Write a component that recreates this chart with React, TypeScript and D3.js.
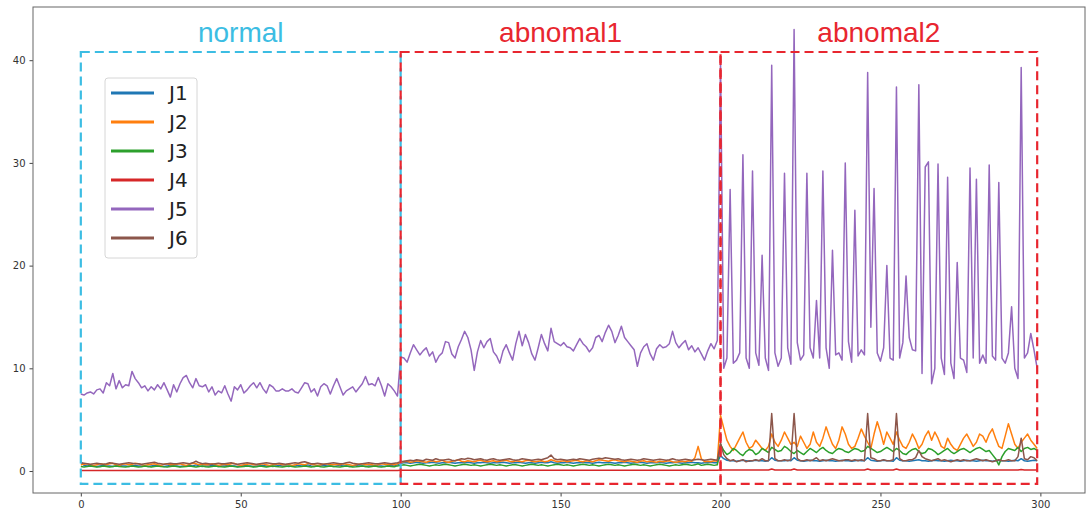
import React from "react";
import * as d3 from "d3";

const names = ["J1", "J2", "J3", "J4", "J5", "J6"];
const colors = ["#1f77b4", "#ff7f0e", "#2ca02c", "#d62728", "#9467bd", "#8c564b"];

const j1 = [
  0.9, 0.55, 0.5, 0.55, 0.5, 0.45, 0.5, 0.55, 0.5, 0.5, 0.45, 0.5, 0.55, 0.5, 0.5, 0.45, 0.5, 0.55, 0.5, 0.5,
  0.5, 0.45, 0.5, 0.55, 0.5, 0.5, 0.45, 0.5, 0.55, 0.5, 0.5, 0.45, 0.5, 0.5, 0.55, 0.5, 0.6, 0.5, 0.45, 0.5,
  0.5, 0.55, 0.5, 0.45, 0.5, 0.5, 0.55, 0.5, 0.5, 0.45, 0.5, 0.55, 0.5, 0.5, 0.45, 0.5, 0.5, 0.55, 0.5, 0.5,
  0.45, 0.5, 0.55, 0.5, 0.5, 0.45, 0.5, 0.5, 0.55, 0.5, 0.5, 0.6, 0.5, 0.45, 0.5, 0.5, 0.55, 0.5, 0.5, 0.45,
  0.5, 0.55, 0.5, 0.5, 0.45, 0.5, 0.55, 0.5, 0.5, 0.45, 0.5, 0.5, 0.55, 0.5, 0.5, 0.45, 0.5, 0.55, 0.5, 0.6,
  0.75, 0.8, 0.8, 0.75, 0.8, 0.85, 0.8, 0.75, 0.8, 0.8, 0.85, 0.8, 0.75, 0.8, 0.8, 0.85, 0.8, 0.75, 0.8, 0.8,
  0.8, 0.85, 0.8, 0.75, 0.8, 0.8, 0.85, 0.8, 0.75, 0.8, 0.8, 0.8, 0.85, 0.8, 0.75, 0.8, 0.8, 0.85, 0.8, 0.75,
  0.8, 0.8, 0.75, 0.8, 0.85, 0.8, 0.8, 0.9, 0.8, 0.75, 0.8, 0.8, 0.85, 0.8, 0.75, 0.8, 0.8, 0.85, 0.8, 0.8,
  0.75, 0.8, 0.85, 0.8, 0.8, 0.85, 0.8, 0.75, 0.8, 0.8, 0.85, 0.8, 0.75, 0.8, 0.8, 0.85, 0.8, 0.75, 0.8, 0.8,
  0.8, 0.85, 0.8, 0.75, 0.8, 0.8, 0.85, 0.8, 0.75, 0.8, 0.8, 0.85, 0.8, 0.8, 0.75, 0.8, 0.8, 0.85, 0.8, 0.8,
  1.5, 1.2, 1.05, 1.0, 1.0, 0.95, 1.0, 1.05, 1.0, 0.95, 1.0, 1.05, 1.0, 1.0, 0.95, 1.0, 1.3, 1.05, 1.0, 1.0,
  1.0, 1.05, 1.0, 1.3, 1.05, 1.0, 0.95, 1.0, 1.05, 1.0, 1.0, 0.95, 1.0, 1.05, 1.0, 1.0, 0.95, 1.0, 1.05, 1.0,
  1.0, 0.95, 1.0, 1.05, 1.0, 1.0, 1.3, 1.05, 1.0, 0.95, 1.0, 1.05, 1.0, 1.0, 0.95, 1.3, 1.05, 1.0, 1.0, 0.95,
  1.0, 1.05, 1.1, 1.0, 1.0, 0.95, 1.0, 1.05, 1.0, 1.0, 0.95, 1.0, 1.05, 1.0, 1.0, 0.95, 1.0, 1.05, 1.0, 1.0,
  0.95, 1.0, 1.05, 1.0, 1.0, 0.95, 1.0, 1.05, 1.0, 1.0, 0.95, 1.0, 1.05, 1.0, 1.2, 1.0, 0.95, 1.0, 1.05, 1.0,
];

const j2 = [
  0.6, 0.65, 0.7, 0.6, 0.55, 0.6, 0.7, 0.65, 0.6, 0.7, 0.75, 0.6, 0.55, 0.65, 0.7, 0.6, 0.65, 0.75, 0.7, 0.6,
  0.55, 0.6, 0.65, 0.7, 0.6, 0.55, 0.65, 0.7, 0.6, 0.6, 0.65, 0.7, 0.6, 0.55, 0.65, 0.75, 0.7, 0.6, 0.65, 0.6,
  0.6, 0.7, 0.65, 0.55, 0.6, 0.65, 0.6, 0.7, 0.75, 0.6, 0.55, 0.6, 0.65, 0.7, 0.6, 0.6, 0.65, 0.7, 0.6, 0.55,
  0.6, 0.65, 0.7, 0.6, 0.6, 0.65, 0.55, 0.6, 0.7, 0.65, 0.6, 0.75, 0.65, 0.6, 0.55, 0.6, 0.65, 0.7, 0.6, 0.6,
  0.65, 0.6, 0.7, 0.65, 0.6, 0.55, 0.6, 0.65, 0.7, 0.6, 0.65, 0.6, 0.55, 0.6, 0.7, 0.65, 0.6, 0.65, 0.6, 0.7,
  0.85, 0.9, 0.95, 0.85, 0.9, 1.0, 0.95, 0.9, 0.85, 0.95, 1.0, 0.9, 0.95, 1.05, 0.9, 0.85, 0.95, 1.0, 1.1, 0.95,
  0.9, 1.0, 0.95, 0.9, 1.0, 1.05, 0.95, 0.9, 0.95, 1.0, 0.9, 0.95, 1.0, 1.05, 0.95, 0.9, 1.0, 0.95, 0.9, 1.0,
  1.05, 0.95, 0.9, 0.95, 1.0, 0.9, 0.95, 1.1, 1.0, 0.9, 0.95, 1.0, 0.9, 0.95, 1.0, 1.05, 0.95, 0.9, 1.0, 0.95,
  0.9, 1.0, 1.1, 1.05, 1.0, 0.95, 1.05, 1.1, 1.0, 0.95, 0.9, 1.0, 0.95, 0.9, 0.85, 0.95, 1.0, 0.9, 0.95, 0.9,
  0.85, 0.95, 0.9, 0.95, 1.0, 0.9, 0.85, 0.9, 0.95, 0.9, 1.0, 0.95, 1.3, 2.4, 1.2, 0.9, 0.95, 0.9, 1.0, 0.95,
  5.4, 4.2, 3.0, 2.4, 2.0, 2.6, 3.2, 3.8, 2.8, 2.2, 2.4, 3.0, 2.6, 2.2, 2.0, 2.4, 3.6, 2.8, 2.4, 3.0,
  3.8, 3.2, 2.6, 2.8, 2.4, 3.4, 2.8, 2.2, 2.6, 3.8, 2.8, 2.4, 3.2, 4.3, 3.4, 2.6, 2.2, 3.0, 4.3, 3.6,
  2.6, 2.2, 2.4, 3.2, 4.1, 3.4, 2.8, 2.2, 3.6, 4.8, 3.8, 2.6, 3.8, 3.2, 2.6, 3.8, 3.0, 2.4, 2.2, 2.8,
  3.6, 3.0, 2.2, 2.6, 3.4, 3.9, 3.0, 3.8, 3.2, 2.4, 2.2, 3.2, 2.6, 2.2, 2.0, 2.6, 3.2, 3.6, 3.0, 2.4,
  2.8, 3.6, 3.4, 2.8, 3.6, 4.1, 3.2, 2.4, 2.2, 3.4, 4.6, 3.6, 2.6, 2.2, 2.8, 3.2, 3.6, 3.0, 2.6, 2.2,
];

const j3 = [
  0.45, 0.4, 0.45, 0.5, 0.45, 0.4, 0.42, 0.48, 0.45, 0.4, 0.45, 0.5, 0.45, 0.42, 0.4, 0.45, 0.5, 0.45, 0.4, 0.42,
  0.48, 0.45, 0.4, 0.45, 0.5, 0.45, 0.42, 0.4, 0.45, 0.48, 0.45, 0.4, 0.42, 0.45, 0.5, 0.45, 0.4, 0.45, 0.48, 0.42,
  0.4, 0.45, 0.5, 0.45, 0.42, 0.4, 0.45, 0.48, 0.45, 0.4, 0.42, 0.45, 0.5, 0.45, 0.4, 0.42, 0.48, 0.45, 0.4, 0.45,
  0.5, 0.45, 0.42, 0.4, 0.45, 0.48, 0.45, 0.4, 0.42, 0.45, 0.5, 0.45, 0.4, 0.45, 0.48, 0.42, 0.4, 0.45, 0.5, 0.45,
  0.42, 0.4, 0.45, 0.48, 0.45, 0.4, 0.42, 0.45, 0.5, 0.45, 0.4, 0.45, 0.48, 0.42, 0.4, 0.45, 0.5, 0.45, 0.42, 0.5,
  0.55, 0.6, 0.55, 0.5, 0.55, 0.6, 0.65, 0.6, 0.55, 0.5, 0.55, 0.6, 0.55, 0.6, 0.65, 0.6, 0.55, 0.5, 0.55, 0.6,
  0.65, 0.6, 0.55, 0.6, 0.55, 0.5, 0.55, 0.6, 0.65, 0.6, 0.55, 0.6, 0.55, 0.5, 0.55, 0.6, 0.6, 0.55, 0.5, 0.55,
  0.6, 0.65, 0.6, 0.55, 0.6, 0.55, 0.5, 0.55, 0.6, 0.65, 0.6, 0.55, 0.6, 0.55, 0.5, 0.55, 0.6, 0.65, 0.6, 0.55,
  0.6, 0.55, 0.5, 0.55, 0.6, 0.65, 0.6, 0.55, 0.6, 0.55, 0.5, 0.55, 0.6, 0.65, 0.6, 0.55, 0.6, 0.55, 0.5, 0.55,
  0.6, 0.65, 0.6, 0.55, 0.5, 0.55, 0.6, 0.55, 0.6, 0.65, 0.6, 0.55, 0.6, 0.7, 0.55, 0.6, 0.65, 0.6, 0.55, 0.6,
  2.6, 2.0, 1.6, 1.8, 2.2, 2.0, 1.7, 1.5, 1.9, 2.1, 2.0, 1.6, 1.8, 2.2, 2.0, 1.8, 2.3, 2.1, 1.9, 2.0,
  2.4, 2.2, 1.9, 1.7, 2.0, 1.8, 1.6, 1.9, 2.2, 2.0, 1.8, 2.1, 2.3, 2.0, 1.8, 1.7, 2.0, 2.2, 2.1, 1.9,
  1.8, 2.0, 2.2, 2.1, 1.9, 2.0, 2.4, 2.2, 2.0, 1.8, 1.9, 2.1, 2.3, 2.1, 1.9, 2.2, 2.0, 1.7, 1.6, 1.9,
  2.1, 2.2, 1.9, 1.7, 1.8, 2.2, 2.1, 1.9, 1.6, 1.8, 2.0, 2.2, 1.9, 1.7, 1.9, 2.1, 2.2, 2.0, 1.8, 2.0,
  2.2, 2.3, 2.1, 1.9, 2.0, 1.6, 1.2, 0.6, 1.4, 1.9, 2.2, 2.1, 2.0, 2.3, 1.9, 2.2, 2.3, 2.1, 2.2, 2.0,
];

const j4 = [
  0.05, 0.05, 0.05, 0.05, 0.05, 0.05, 0.05, 0.05, 0.05, 0.05, 0.05, 0.05, 0.05, 0.05, 0.05, 0.05, 0.05, 0.05, 0.05, 0.05,
  0.05, 0.05, 0.05, 0.05, 0.05, 0.05, 0.05, 0.05, 0.05, 0.05, 0.05, 0.05, 0.05, 0.05, 0.05, 0.05, 0.05, 0.05, 0.05, 0.05,
  0.05, 0.05, 0.05, 0.05, 0.05, 0.05, 0.05, 0.05, 0.05, 0.05, 0.05, 0.05, 0.05, 0.05, 0.05, 0.05, 0.05, 0.05, 0.05, 0.05,
  0.05, 0.05, 0.05, 0.05, 0.05, 0.05, 0.05, 0.05, 0.05, 0.05, 0.05, 0.05, 0.05, 0.05, 0.05, 0.05, 0.05, 0.05, 0.05, 0.05,
  0.05, 0.05, 0.05, 0.05, 0.05, 0.05, 0.05, 0.05, 0.05, 0.05, 0.05, 0.05, 0.05, 0.05, 0.05, 0.05, 0.05, 0.05, 0.05, 0.05,
  0.07, 0.07, 0.07, 0.07, 0.07, 0.07, 0.07, 0.07, 0.07, 0.07, 0.07, 0.07, 0.07, 0.07, 0.07, 0.07, 0.07, 0.07, 0.07, 0.07,
  0.07, 0.07, 0.07, 0.07, 0.07, 0.07, 0.07, 0.07, 0.07, 0.07, 0.07, 0.07, 0.07, 0.07, 0.07, 0.07, 0.07, 0.07, 0.07, 0.07,
  0.07, 0.07, 0.07, 0.07, 0.07, 0.07, 0.07, 0.07, 0.07, 0.07, 0.07, 0.07, 0.07, 0.07, 0.07, 0.07, 0.07, 0.07, 0.07, 0.07,
  0.07, 0.07, 0.07, 0.07, 0.07, 0.07, 0.07, 0.07, 0.07, 0.07, 0.07, 0.07, 0.07, 0.07, 0.07, 0.07, 0.07, 0.07, 0.07, 0.07,
  0.07, 0.07, 0.07, 0.07, 0.07, 0.07, 0.07, 0.07, 0.07, 0.07, 0.07, 0.07, 0.07, 0.07, 0.07, 0.07, 0.07, 0.07, 0.07, 0.07,
  0.1, 0.1, 0.1, 0.1, 0.1, 0.1, 0.1, 0.1, 0.1, 0.1, 0.1, 0.1, 0.1, 0.1, 0.1, 0.1, 0.2, 0.1, 0.1, 0.1,
  0.1, 0.1, 0.1, 0.2, 0.1, 0.1, 0.1, 0.1, 0.1, 0.1, 0.1, 0.1, 0.1, 0.1, 0.1, 0.1, 0.1, 0.1, 0.1, 0.1,
  0.1, 0.1, 0.1, 0.1, 0.1, 0.1, 0.2, 0.1, 0.1, 0.1, 0.1, 0.1, 0.1, 0.1, 0.1, 0.2, 0.1, 0.1, 0.1, 0.1,
  0.1, 0.1, 0.1, 0.1, 0.1, 0.1, 0.1, 0.1, 0.1, 0.1, 0.1, 0.1, 0.1, 0.1, 0.1, 0.1, 0.1, 0.1, 0.1, 0.1,
  0.1, 0.1, 0.1, 0.1, 0.1, 0.1, 0.1, 0.1, 0.1, 0.1, 0.1, 0.1, 0.1, 0.1, 0.15, 0.1, 0.1, 0.1, 0.1, 0.1,
];

const j5 = [
  7.5, 7.4, 7.6, 7.7, 7.5, 7.9, 8.0, 7.6, 8.6, 8.3, 9.5, 8.0, 8.8, 8.1, 8.4, 8.3, 9.7, 9.0, 8.6, 8.1,
  8.3, 7.8, 8.2, 7.9, 8.4, 8.0, 8.6, 7.9, 7.2, 8.4, 7.7, 8.5, 9.1, 9.3, 8.6, 8.1, 9.0, 8.3, 8.2, 8.4,
  7.7, 8.2, 7.4, 7.8, 7.6, 8.3, 7.5, 6.8, 8.2, 7.9, 8.4, 7.6, 7.9, 8.3, 8.6, 8.1, 8.6, 8.0, 7.6, 8.4,
  8.2, 7.8, 7.8, 8.0, 7.8, 7.8, 8.0, 7.7, 7.6, 8.1, 8.6, 8.5, 7.7, 8.0, 7.3, 8.2, 8.5, 8.3, 7.5, 8.3,
  9.0, 8.2, 7.4, 7.8, 8.0, 8.2, 7.7, 8.1, 8.5, 9.2, 8.4, 8.5, 8.3, 9.1, 8.3, 7.3, 8.5, 8.2, 7.8, 7.3,
  11.1, 11.0, 10.6, 11.5, 12.3, 11.8, 11.3, 11.7, 12.0, 11.2, 11.6, 10.6, 11.2, 11.5, 12.6, 12.5, 11.4, 11.0, 12.1, 12.8,
  13.6, 13.0, 11.8, 9.8, 11.6, 12.7, 12.0, 12.6, 12.9, 11.6, 11.2, 10.5, 11.7, 12.3, 11.5, 10.8, 12.4, 13.6, 12.2, 13.3,
  12.5, 11.4, 10.8, 12.0, 13.3, 12.4, 11.7, 13.9, 12.6, 12.4, 12.2, 12.5, 12.1, 12.0, 11.7, 12.3, 12.9, 12.4, 12.1, 11.6,
  12.0, 13.0, 13.2, 12.6, 13.5, 14.2, 13.6, 12.5, 13.2, 14.1, 13.0, 12.6, 12.2, 11.8, 10.2, 11.5, 12.1, 12.4, 11.4, 10.8,
  11.9, 12.3, 12.0, 12.1, 12.4, 13.6, 12.5, 12.0, 12.4, 12.7, 11.8, 12.2, 11.6, 12.0, 11.4, 10.8, 11.7, 12.4, 11.9, 12.7,
  40, 10, 11, 27.4, 10.5, 10.8, 11.5, 30.8, 11, 10, 29.2, 11.5, 10.3, 21, 11, 9.8, 39.5, 11.5, 10.2, 11,
  29, 12, 10.4, 43, 12.5, 10.8, 11.3, 29, 12, 11, 16.6, 11, 29.2, 12, 10, 21.5, 11.3, 11.5, 10.8, 30,
  12.6, 10.6, 25.4, 11.2, 11.8, 11.3, 38.8, 14, 27.5, 11.5, 10.7, 12, 20, 11, 10.8, 37.4, 11, 12.5, 19, 13,
  11.8, 11.7, 37.6, 9.5, 29.6, 30.1, 8.5, 10, 29.9, 11, 9.4, 28.6, 10.5, 9, 20.3, 11, 10.8, 9.6, 29.5, 11,
  28.4, 10.5, 11.3, 10.5, 29.8, 11.2, 10.8, 28.1, 11, 10.5, 11.5, 16, 10, 9, 39.3, 11, 11.5, 13.4, 11.8, 10,
];

const j6 = [
  0.8, 0.75, 0.7, 0.65, 0.7, 0.75, 0.7, 0.65, 0.7, 0.8, 0.75, 0.7, 0.65, 0.7, 0.75, 0.8, 0.75, 0.7, 0.7, 0.65,
  0.7, 0.75, 0.8, 0.85, 0.75, 0.7, 0.65, 0.7, 0.75, 0.7, 0.7, 0.75, 0.8, 0.75, 0.7, 0.8, 0.95, 0.8, 0.7, 0.75,
  0.7, 0.65, 0.7, 0.75, 0.7, 0.7, 0.75, 0.8, 0.7, 0.65, 0.7, 0.75, 0.8, 0.75, 0.7, 0.65, 0.7, 0.75, 0.8, 0.75,
  0.7, 0.7, 0.75, 0.7, 0.65, 0.7, 0.75, 0.8, 0.75, 0.85, 0.9, 0.8, 0.7, 0.7, 0.75, 0.7, 0.65, 0.7, 0.75, 0.8,
  0.75, 0.7, 0.7, 0.8, 0.85, 0.75, 0.7, 0.65, 0.7, 0.75, 0.8, 0.75, 0.7, 0.7, 0.75, 0.8, 0.75, 0.7, 0.75, 0.8,
  0.9, 0.95, 1.0, 1.05, 1.0, 1.1, 1.05, 1.0, 1.15, 1.1, 1.05, 1.2, 1.1, 1.05, 1.1, 1.15, 1.05, 1.0, 1.1, 1.2,
  1.15, 1.25, 1.2, 1.1, 1.15, 1.2, 1.1, 1.05, 1.15, 1.2, 1.1, 1.05, 1.1, 1.15, 1.2, 1.1, 1.05, 1.1, 1.2, 1.15,
  1.1, 1.05, 1.1, 1.15, 1.1, 1.2, 1.3, 1.55, 1.2, 1.1, 1.15, 1.1, 1.05, 1.1, 1.15, 1.1, 1.2, 1.15, 1.1, 1.05,
  1.15, 1.2, 1.25, 1.2, 1.3, 1.25, 1.2, 1.15, 1.2, 1.1, 1.05, 1.1, 1.15, 1.1, 1.05, 1.1, 1.2, 1.15, 1.1, 1.05,
  1.1, 1.15, 1.1, 1.05, 1.1, 1.2, 1.1, 1.05, 1.1, 1.15, 1.1, 1.05, 1.1, 1.15, 1.1, 1.05, 1.1, 1.15, 1.1, 1.05,
  2.7, 1.6, 1.2, 1.0, 1.1, 0.9, 1.0, 1.1, 0.9, 1.0, 1.0, 1.1, 1.0, 1.2, 1.0, 1.0, 5.6, 1.2, 1.0, 1.0,
  1.1, 1.0, 1.1, 5.6, 1.2, 1.0, 1.0, 1.1, 1.0, 1.1, 1.3, 1.0, 1.1, 1.0, 1.1, 1.2, 1.1, 1.0, 1.0, 1.1,
  1.1, 1.0, 1.1, 1.0, 1.1, 1.0, 5.6, 1.3, 1.2, 1.0, 1.0, 1.1, 1.0, 1.0, 1.1, 5.6, 1.2, 1.0, 1.0, 1.1,
  1.1, 1.3, 2.0, 1.4, 1.2, 1.1, 1.0, 1.1, 1.2, 1.0, 1.1, 1.0, 0.9, 1.0, 1.1, 1.0, 1.1, 1.0, 1.0, 1.1,
  1.2, 1.1, 1.0, 1.1, 1.0, 0.9, 1.0, 1.1, 1.0, 1.0, 1.1, 1.0, 1.0, 1.4, 3.2, 1.2, 1.1, 1.4, 1.3, 1.0,
];

const allSeries = [j1, j2, j3, j4, j5, j6];

const xTicks = [0, 50, 100, 150, 200, 250, 300];
const yTicks = [0, 10, 20, 30, 40];

// annotation boxes drawn over the plot (data coordinates)
const regionLabels = ["normal", "abnomal1", "abnomal2"];
const regionStart = [0, 100, 200];
const regionEnd = [100, 200, 299];
const regionColors = ["#3cbde3", "#e8262f", "#e8262f"];
const regionTop = 40.8;
const regionBottom = -1.25;

export default function App() {
  const svgRef = React.useRef<SVGSVGElement>(null);
  const width = 1086;
  const height = 513;
  const plot = { left: 33, right: 1085, top: 7, bottom: 493 };

  React.useEffect(() => {
    const x = d3.scaleLinear().domain([-14.95, 313.95]).range([plot.left, plot.right]);
    const y = d3.scaleLinear().domain([-2.14, 45.18]).range([plot.bottom, plot.top]);

    const svgEl = d3.select(svgRef.current);
    svgEl.selectAll("*").remove();

    svgEl.append("rect").attr("width", width).attr("height", height).attr("fill", "white");

    // axes
    const xAxisGroup = svgEl
      .append("g")
      .attr("transform", `translate(0, ${plot.bottom})`)
      .call(d3.axisBottom(x).tickValues(xTicks).tickSize(3.5).tickPadding(4));
    xAxisGroup.select(".domain").remove();
    xAxisGroup.selectAll("line").attr("stroke", "#444");
    xAxisGroup.selectAll("text")
      .attr("fill", "#333")
      .attr("font-size", "10px")
      .attr("font-family", "DejaVu Sans");

    const yAxisGroup = svgEl
      .append("g")
      .attr("transform", `translate(${plot.left}, 0)`)
      .call(d3.axisLeft(y).tickValues(yTicks).tickSize(3.5).tickPadding(4));
    yAxisGroup.select(".domain").remove();
    yAxisGroup.selectAll("line").attr("stroke", "#444");
    yAxisGroup.selectAll("text")
      .attr("fill", "#333")
      .attr("font-size", "10px")
      .attr("font-family", "DejaVu Sans");

    // lines
    const line = d3
      .line<number>()
      .x((d, i) => x(i))
      .y((d) => y(d));

    const lines = svgEl.append("g");
    allSeries.forEach((s, k) => {
      lines
        .append("path")
        .datum(s)
        .attr("d", line)
        .attr("fill", "none")
        .attr("stroke", colors[k])
        .attr("stroke-width", 1.5)
        .attr("stroke-linejoin", "round");
    });

    // frame
    svgEl
      .append("rect")
      .attr("x", plot.left)
      .attr("y", plot.top)
      .attr("width", plot.right - plot.left)
      .attr("height", plot.bottom - plot.top)
      .attr("fill", "none")
      .attr("stroke", "#666")
      .attr("stroke-width", 1);

    // legend
    const legend = svgEl.append("g");
    legend
      .append("rect")
      .attr("x", 105)
      .attr("y", 78)
      .attr("width", 92)
      .attr("height", 180)
      .attr("rx", 3)
      .attr("fill", "white")
      .attr("fill-opacity", 0.8)
      .attr("stroke", "#d6d6d6");
    names.forEach((n, k) => {
      const cy = 93 + k * 29;
      legend
        .append("line")
        .attr("x1", 111)
        .attr("x2", 154)
        .attr("y1", cy)
        .attr("y2", cy)
        .attr("stroke", colors[k])
        .attr("stroke-width", 3);
      legend
        .append("text")
        .attr("x", 169)
        .attr("y", cy)
        .attr("dy", "0.36em")
        .attr("font-size", "20px")
        .attr("font-family", "DejaVu Sans")
        .attr("fill", "#222")
        .text(n);
    });

    // dashed region boxes + labels
    const boxes = svgEl.append("g");
    regionLabels.forEach((lab, k) => {
      const x0 = x(regionStart[k]);
      const x1 = x(regionEnd[k]);
      boxes
        .append("rect")
        .attr("x", x0)
        .attr("y", y(regionTop))
        .attr("width", x1 - x0)
        .attr("height", y(regionBottom) - y(regionTop))
        .attr("fill", "none")
        .attr("stroke", regionColors[k])
        .attr("stroke-width", 2.2)
        .attr("stroke-dasharray", "9,5");
      boxes
        .append("text")
        .attr("x", (x0 + x1) / 2)
        .attr("y", 42)
        .attr("text-anchor", "middle")
        .attr("font-size", "28px")
        .attr("font-family", "Liberation Sans")
        .attr("fill", regionColors[k])
        .text(lab);
    });
  }, []);

  return (
    <svg
      ref={svgRef}
      width={width}
      height={height}
      style={{ position: "absolute", left: 0, top: 0, display: "block" }}
    />
  );
}
